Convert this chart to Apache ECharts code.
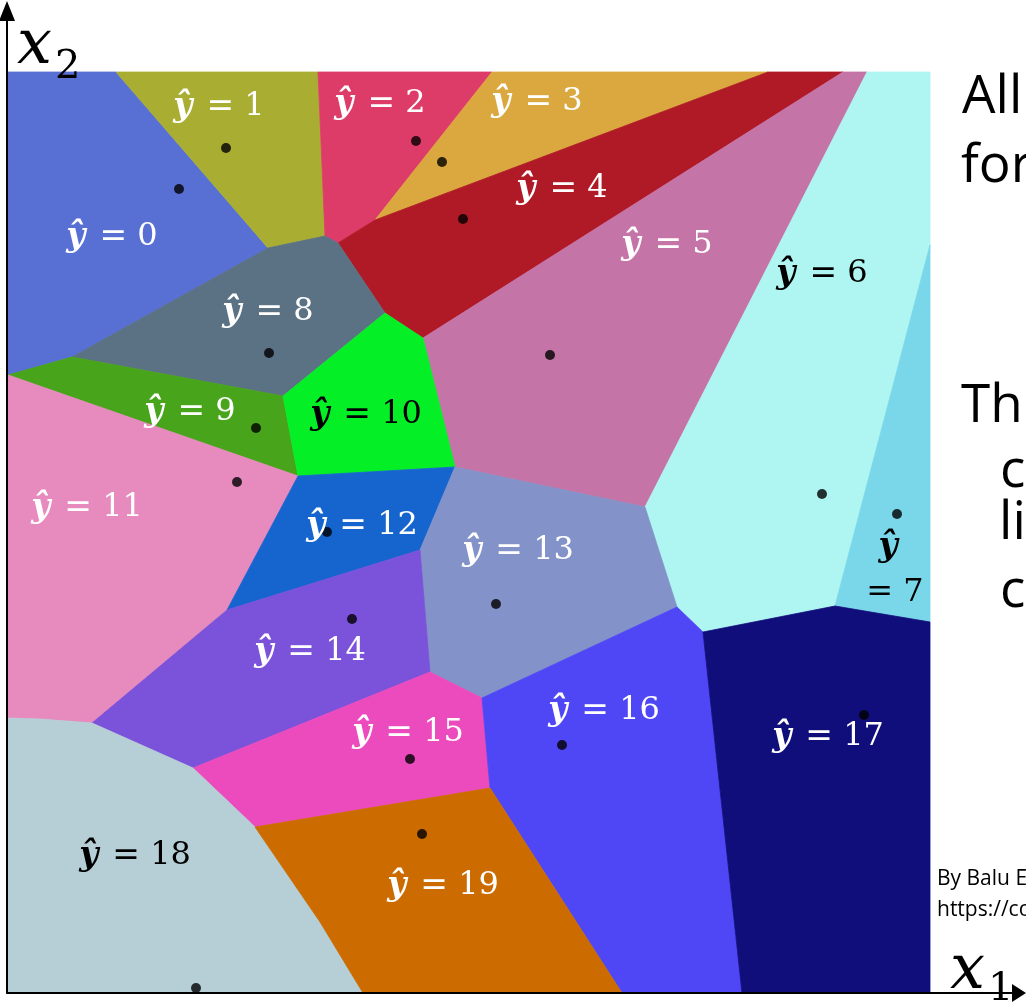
<!DOCTYPE html>
<html>
<head>
    <meta charset="UTF-8" />
    <title>Voronoi regions of a 1-NN classifier</title>
    <script src="https://cdn.jsdelivr.net/npm/echarts@6/dist/echarts.min.js"></script>
    <style>
        html, body { margin: 0; padding: 0; background: #fff; }
        #main { width: 1026px; height: 1006px; }
    </style>
</head>
<body>
<div id="main"></div>
<script type="text/javascript">
    // predicted class of every region
    var classes = [0, 1, 2, 3, 4, 5, 6, 7, 8, 9, 10, 11, 12, 13, 14, 15, 16, 17, 18, 19];

    // region outlines as [x1, x2] pairs (picture units, origin at the axis corner)
    var cells = [
        [[1, 921], [109, 921], [261, 745], [65, 636], [1, 618]],
        [[109, 921], [311, 921], [318, 757], [261, 745]],
        [[311, 921], [485, 921], [368, 773], [331, 750], [318, 757]],
        [[485, 921], [761, 921], [368, 773]],
        [[368, 773], [761, 921], [836, 921], [416, 655], [378, 680], [331, 750]],
        [[416, 655], [836, 921], [860, 921], [638, 486], [448, 526]],
        [[860, 921], [923, 921], [923, 748], [828, 387], [696, 361], [670, 386], [638, 486]],
        [[923, 748], [923, 371], [828, 387]],
        [[261, 745], [318, 757], [331, 750], [378, 680], [276, 597], [65, 636]],
        [[65, 636], [276, 597], [291, 517], [1, 618]],
        [[378, 680], [416, 655], [448, 526], [291, 517], [276, 597]],
        [[1, 618], [291, 517], [220, 383], [85, 270], [33, 274], [1, 275]],
        [[291, 517], [448, 526], [413, 443], [220, 383]],
        [[448, 526], [638, 486], [670, 386], [475, 295], [423, 321], [413, 443]],
        [[220, 383], [413, 443], [423, 321], [186, 225], [85, 270]],
        [[186, 225], [423, 321], [475, 295], [483, 205], [248, 166]],
        [[475, 295], [670, 386], [696, 361], [735, 0], [615, 0], [483, 205]],
        [[696, 361], [828, 387], [923, 371], [923, 0], [735, 0]],
        [[1, 275], [33, 274], [85, 270], [186, 225], [248, 166], [313, 71], [356, 0], [1, 0]],
        [[248, 166], [483, 205], [615, 0], [356, 0], [313, 71]]
    ];

    // training points (the black dots)
    var points = [
        [172, 804], [219, 845], [409, 852], [435, 831], [456, 774],
        [543, 638], [815, 499], [890, 479], [262, 640], [249, 565],
        [230, 511], [320, 461], [489, 389], [345, 374], [403, 234],
        [555, 248], [857, 278], [189, 5], [415, 159]
    ];

    // where each "y-hat = k" caption sits
    var labelAt = [
        [105, 756], [212, 886], [373, 889], [530, 891], [555, 804],
        [660, 748], [815, 719], [888, 423], [261, 681], [183, 581],
        [359, 578], [80, 485], [355, 467], [511, 442], [303, 341],
        [401, 260], [597, 282], [821, 256], [128, 137], [436, 107]
    ];

    var palette = ['#5870D4', '#A9AE33', '#DE3C68', '#DBA83F', '#B01A26',
                   '#C474A6', '#AFF5F1', '#7AD7EA', '#5B7184', '#47A41B',
                   '#05EF27', '#E78BBE', '#1665CF', '#8393C9', '#7B52DA',
                   '#EB4BBD', '#4F47F5', '#100E7B', '#B6CED6', '#CC6C00'];
    var darkText = { 6: true, 7: true, 10: true, 18: true };

    var serif = '"DejaVu Serif", "Liberation Serif", serif';
    var sans = '"Open Sans", "Noto Sans", sans-serif';

    var chart = echarts.init(document.getElementById('main'));

    function sideText(x, y, text, size) {
        return {
            type: 'text', x: x, y: y, z: 100,
            style: { text: text, fill: '#000', fontFamily: sans, fontSize: size,
                     align: 'left', verticalAlign: 'middle' }
        };
    }

    var option = {
        backgroundColor: '#fff',
        animation: false,
        grid: { left: 7, right: 7, top: 11, bottom: 13 },
        xAxis: {
            type: 'value', min: 0, max: 1012, z: 10,
            axisLine: { show: true, onZero: false, symbol: ['none', 'triangle'], symbolSize: [18, 14],
                        lineStyle: { color: '#000', width: 2 } },
            axisTick: { show: false }, axisLabel: { show: false }, splitLine: { show: false }
        },
        yAxis: {
            type: 'value', min: 0, max: 982, z: 10,
            axisLine: { show: true, onZero: false, symbol: ['none', 'triangle'], symbolSize: [16, 20],
                        lineStyle: { color: '#000', width: 2 } },
            axisTick: { show: false }, axisLabel: { show: false }, splitLine: { show: false }
        },
        graphic: [
            { type: 'text', x: 17, y: 47, z: 100,
              style: { text: 'x', fill: '#000', fontFamily: serif, fontStyle: 'italic', fontSize: 62,
                       align: 'left', verticalAlign: 'middle' } },
            { type: 'text', x: 55, y: 68, z: 100,
              style: { text: '2', fill: '#000', fontFamily: serif, fontSize: 40,
                       align: 'left', verticalAlign: 'middle' } },
            { type: 'text', x: 950, y: 972, z: 100,
              style: { text: 'x', fill: '#000', fontFamily: serif, fontStyle: 'italic', fontSize: 62,
                       align: 'left', verticalAlign: 'middle' } },
            { type: 'text', x: 988, y: 990, z: 100,
              style: { text: '1', fill: '#000', fontFamily: serif, fontSize: 40,
                       align: 'left', verticalAlign: 'middle' } },
            sideText(962, 98, 'All', 53),
            sideText(961, 167, 'for', 53),
            sideText(961, 407, 'Th', 53),
            sideText(1000, 472, 'c', 53),
            sideText(999, 524, 'li', 53),
            sideText(1000, 592, 'c', 53),
            sideText(937, 879, 'By Balu Ertl - Own work, CC BY-SA 4.0', 21),
            sideText(937, 910, 'https://commons.wikimedia.org', 21)
        ],
        series: [
            {
                type: 'custom',
                coordinateSystem: 'cartesian2d',
                silent: true,
                z: 1,
                data: classes.map(function (k) { return [k]; }),
                renderItem: function (params, api) {
                    var k = api.value(0);
                    var pts = cells[k].map(function (p) { return api.coord(p); });
                    return {
                        type: 'polygon',
                        shape: { points: pts },
                        style: { fill: palette[k], stroke: palette[k], lineWidth: 0.8 }
                    };
                }
            },
            {
                type: 'scatter',
                silent: true,
                z: 3,
                symbolSize: 10,
                itemStyle: { color: '#000' },
                data: points
            },
            {
                type: 'custom',
                coordinateSystem: 'cartesian2d',
                silent: true,
                z: 4,
                data: classes.map(function (k) { return [k, labelAt[k][0], labelAt[k][1]]; }),
                renderItem: function (params, api) {
                    var k = api.value(0);
                    var p = api.coord([api.value(1), api.value(2)]);
                    var col = darkText[k] ? '#000' : '#fff';
                    var txt = k === 7 ? '{h|ŷ}\n= 7' : '{h|ŷ}{e|=} ' + k;
                    return {
                        type: 'text', x: p[0], y: p[1],
                        style: {
                            text: txt, fill: col, fontFamily: serif, fontSize: 32,
                            lineHeight: 46, align: 'center', verticalAlign: 'middle',
                            rich: {
                                h: { fill: col, fontFamily: serif, fontSize: 33, lineHeight: 46,
                                     fontWeight: 'bold', fontStyle: 'italic', padding: [0, 14, 0, 0] },
                                e: { fill: col, fontFamily: serif, fontSize: 33, lineHeight: 46 }
                            }
                        }
                    };
                }
            }
        ]
    };
    chart.setOption(option);
</script>
</body>
</html>
